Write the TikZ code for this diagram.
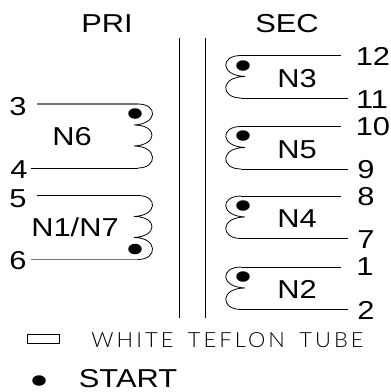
\documentclass[tikz,border=0pt]{standalone}
\usepackage{fontspec}
\setmainfont{Liberation Sans}
\newfontfamily\thinf[LetterSpace=14,WordSpace=1.6]{Lato Light}
\newcommand{\wide}[1]{\scalebox{1.19}[1]{#1}}
\newcommand{\cadtxt}[1]{\scalebox{1.046}[1]{\thinf\fontsize{21}{21}\selectfont #1}}
\usetikzlibrary{shapes.geometric}
\tikzset{
  lbl/.style={inner sep=0pt,font=\fontsize{26}{26}\selectfont,text=black},
  wire/.style={draw=black,line width=0.8bp},
  greywire/.style={draw=black!55,line width=1.4bp},
  spot/.style={fill=black,draw=none,ellipse,minimum width=13.5bp,minimum height=10.5bp,inner sep=0pt},
  barrier/.style={draw=black,line width=0.9bp},
}
\newcommand{\priwind}[2]{% #1 = name, #2 = top y
  \coordinate (#1a) at (138,#2);
  \coordinate (#1b) at (134,#2+21);
  \coordinate (#1c) at (134,#2+42);
  \coordinate (#1d) at (138,#2+64);
  \draw[wire] (#1a) .. controls (158,#2) and (158,#2+20) .. (#1b)
              (#1b) .. controls (158,#2+21) and (158,#2+41) .. (#1c)
              (#1c) .. controls (158,#2+42) and (158,#2+64) .. (#1d);
}
\newcommand{\secwind}[2]{% #1 = name, #2 = top y
  \coordinate (#1a) at (241,#2);
  \coordinate (#1b) at (245,#2+21);
  \coordinate (#1c) at (241,#2+42.5);
  \draw[wire] (#1a) .. controls (220,#2) and (220,#2+20) .. (#1b)
              (#1b) .. controls (220,#2+21) and (220,#2+42.5) .. (#1c);
}
\begin{document}
\begin{tikzpicture}[x=1bp,y=-1bp]
\useasboundingbox (0,0) rectangle (391,392);
% headings
\node[lbl] (pri) at (107,24) {\wide{PRI}};
\node[lbl] (sec) at (287,24) {\wide{SEC}};
% core
\coordinate (c1t) at (179.5,38); \coordinate (c1b) at (179.5,318);
\coordinate (c2t) at (205,38);   \coordinate (c2b) at (205,318);
\draw[barrier] (c1t) -- (c1b);
\draw[barrier] (c2t) -- (c2b);
% primary windings
\priwind{na}{104}
\priwind{nb}{195.5}
\coordinate (t3) at (37,104);  \coordinate (t4) at (31,168);
\coordinate (t5) at (37,195.5); \coordinate (t6) at (31,259.5);
\draw[greywire] (t3) -- (naa);
\draw[wire] (t4) -- (nad);
\draw[wire] (t5) -- (nba);
\draw[greywire] (t6) -- (nbd);
\node[spot] (da) at (135,113.5) {};
\node[spot] (db) at (135,249) {};
\node[lbl] (n3l) at (18,107) {\wide{3}};
\node[lbl] (n4l) at (19,170) {\wide{4}};
\node[lbl] (n5l) at (18,199) {\wide{5}};
\node[lbl] (n6l) at (18,261) {\wide{6}};
\node[lbl] (N6) at (72,137) {\wide{N6}};
\node[lbl] (N17) at (75,227) {\wide{N1/N7}};
% secondary windings
\secwind{sa}{55.5}
\secwind{sb}{126.5}
\secwind{sc}{196}
\secwind{sd}{267}
\coordinate (t12) at (341,55.5);  \coordinate (t11) at (348,98);
\coordinate (t10) at (341,126.5); \coordinate (t9) at (348,169);
\coordinate (t8) at (341,196);    \coordinate (t7) at (348,238.5);
\coordinate (t1) at (341,267);    \coordinate (t2) at (348,309.5);
\draw[wire] (saa) -- (t12);
\draw[wire] (sac) -- (t11);
\draw[wire] (sba) -- (t10);
\draw[wire] (sbc) -- (t9);
\draw[wire] (sca) -- (t8);
\draw[wire] (scc) -- (t7);
\draw[wire] (sda) -- (t1);
\draw[wire] (sdc) -- (t2);
\node[spot] (ds3) at (243,65.5) {};
\node[spot] (ds5) at (243,135.5) {};
\node[spot] (ds4) at (243,205.5) {};
\node[spot] (ds2) at (243,276.5) {};
\node[lbl] (p12) at (373,56) {\wide{12}};
\node[lbl] (p11) at (372,100) {\wide{11}};
\node[lbl] (p10) at (373,127) {\wide{10}};
\node[lbl] (p9) at (366,170) {\wide{9}};
\node[lbl] (p8) at (366,197) {\wide{8}};
\node[lbl] (p7) at (366,240) {\wide{7}};
\node[lbl] (p1) at (365,267) {\wide{1}};
\node[lbl] (p2) at (366,310) {\wide{2}};
\node[lbl] (N3) at (297,79) {\wide{N3}};
\node[lbl] (N5) at (297,150) {\wide{N5}};
\node[lbl] (N4) at (297,219) {\wide{N4}};
\node[lbl] (N2) at (297,289) {\wide{N2}};
% legend
\node[draw=black,line width=0.7bp,minimum width=32bp,minimum height=9bp,inner sep=0pt] (tube) at (43,338.5) {};
\node[inner sep=0pt] (tubetxt) at (227.5,340.5) {\cadtxt{WHITE TEFLON TUBE}};
\node[spot] (startdot) at (39,380.5) {};
\node[lbl] (start) at (128,379) {\wide{START}};
\end{tikzpicture}
\end{document}
